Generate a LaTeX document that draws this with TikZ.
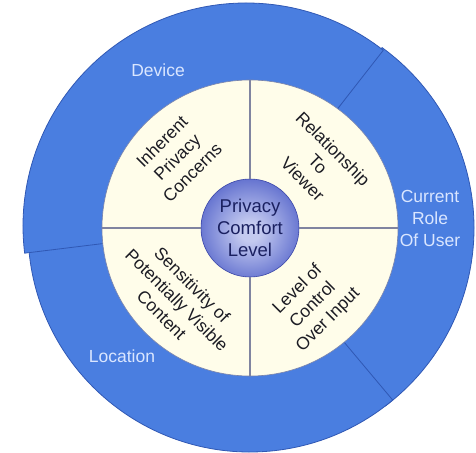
\documentclass[tikz,border=0pt]{standalone}
\usepackage{fontspec}
\setmainfont{Liberation Sans}
\definecolor{ringblue}{RGB}{74,126,224}
\definecolor{ringedge}{RGB}{48,88,180}
\definecolor{creamfill}{RGB}{255,253,234}
\definecolor{creamedge}{RGB}{120,130,170}
\definecolor{divider}{RGB}{128,132,160}
\definecolor{ringtext}{RGB}{218,230,255}
\definecolor{sphtext}{RGB}{26,32,96}
\definecolor{quadtext}{RGB}{28,28,36}
\definecolor{sphC}{RGB}{196,202,240}
\definecolor{sphM}{RGB}{84,100,202}
\definecolor{sphE}{RGB}{58,70,168}
\pgfdeclareradialshading{sphshade}{\pgfpoint{0bp}{-2bp}}{color(0bp)=(sphC); color(5bp)=(sphC); color(30bp)=(sphM); color(46bp)=(sphE); color(50bp)=(sphE)}
\begin{document}
\begin{tikzpicture}[x=1pt,y=1pt,
  ring/.style={fill=ringblue, draw=ringedge, line width=0.8pt, line join=round},
  ringlabel/.style={text=ringtext, align=center, inner sep=0pt, font={\fontsize{17.5pt}{22pt}\selectfont}},
  quadlabel/.style={text=quadtext, align=center, inner sep=0pt, font={\fontsize{17.5pt}{21.5pt}\selectfont}},
  divline/.style={draw=divider, line width=1.3pt}]
\useasboundingbox (-249,-224) rectangle (227,228);
% outer ring sectors
\filldraw[ring, shift={(2pt,0pt)}] (-53:223pt) arc[start angle=-53, end angle=54, radius=223pt] -- (54:138pt) arc[start angle=54, end angle=-53, radius=138pt] -- cycle;
\filldraw[ring, shift={(1pt,-2pt)}] (184:222pt) arc[start angle=184, end angle=310, radius=222pt] -- (310:138pt) arc[start angle=310, end angle=184, radius=138pt] -- cycle;
\filldraw[ring, shift={(-3pt,2pt)}] (52:223pt) arc[start angle=52, end angle=187, radius=223pt] -- (187:138pt) arc[start angle=187, end angle=52, radius=138pt] -- cycle;
% cream disc
\node[circle, fill=creamfill, draw=creamedge, line width=0.6pt, minimum size=296pt, inner sep=0pt] (cream) at (1,0) {};
% centre sphere
\node[circle, minimum size=98pt, inner sep=0pt, shading=sphshade, draw=sphE, line width=0.6pt, align=center, text=sphtext, font={\fontsize{18.5pt}{22pt}\selectfont}] (core) at (1,0) {Privacy\\Comfort\\Level};
% dividers
\draw[divline] (core.east) -- (cream.east);
\draw[divline] (core.west) -- (cream.west);
\draw[divline] (core.north) -- (cream.north);
\draw[divline] (core.south) -- (cream.south);
% quadrant labels
\node[quadlabel, rotate=45] (inh) at (-72,71) {Inherent\\Privacy\\Concerns};
\node[quadlabel, rotate=-45] (rel) at (69,64) {Relationship\\To\\Viewer};
\node[quadlabel, rotate=-45] (sen) at (-72,-72) {Sensitivity of\\Potentially Visible\\Content};
\node[quadlabel, rotate=45] (lev) at (64,-77) {Level of\\Control\\Over Input};
% ring labels
\node[ringlabel] (dev) at (-91,158) {Device};
\node[ringlabel] (loc) at (-127,-128) {Location};
\node[ringlabel] (role) at (181,10) {Current\\Role\\Of User};
\end{tikzpicture}
\end{document}
